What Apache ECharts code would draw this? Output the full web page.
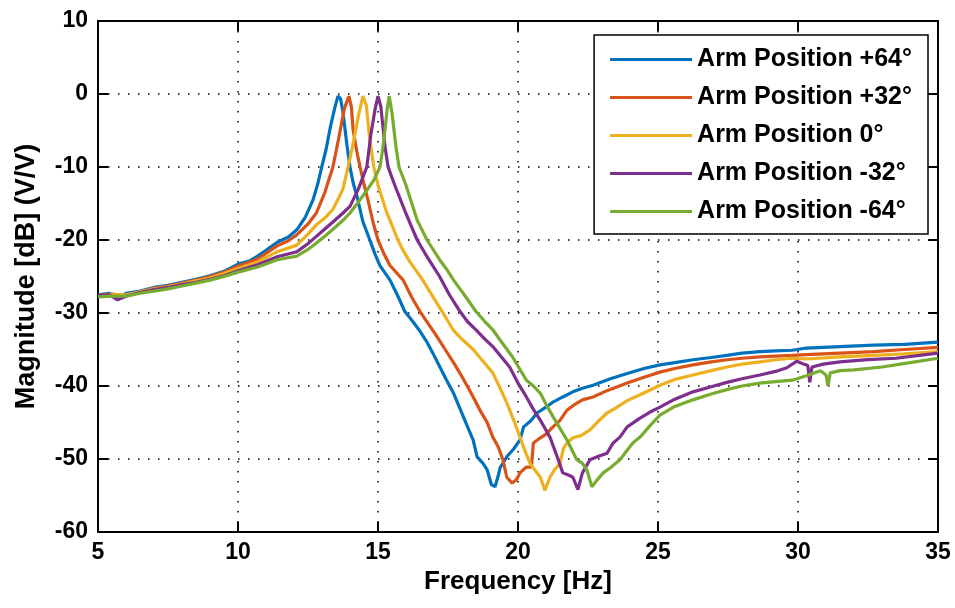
<!DOCTYPE html>
<html lang="en">
<head>
  <meta charset="UTF-8">
  <title>Arm position frequency response</title>
  <style>
    html, body { margin: 0; padding: 0; width: 100%; height: 100%; background: #fff; }
    #main { width: 955px; height: 608px; }
  </style>
</head>
<body>
  <div id="main"></div>
  <script src="https://cdn.jsdelivr.net/npm/echarts@6/dist/echarts.min.js"></script>
  <script type="text/javascript">
    // legend names and colours (MATLAB default order)
    const seriesNames = ['Arm Position +64°', 'Arm Position +32°', 'Arm Position 0°', 'Arm Position -32°', 'Arm Position -64°'];
    const seriesColors = ['#0072BD', '#D95319', '#EDB120', '#7E2F8E', '#77AC30'];
    const xTicks = [5, 10, 15, 20, 25, 30, 35];
    const yTicks = [-60, -50, -40, -30, -20, -10, 0, 10];

    // [frequency Hz, magnitude dB]
    const pos64 = [[5,-27.5],[5.4,-27.3],[5.7,-28.2],[6,-27.3],[6.5,-27.0],[7,-26.5],[7.5,-26.2],[8,-25.8],[8.5,-25.4],[9,-24.9],[9.5,-24.3],[10,-23.3],[10.4,-22.9],[10.7,-22.2],[11,-21.4],[11.4,-20.3],[11.8,-19.6],[12.1,-18.6],[12.4,-16.9],[12.68,-14.5],[12.85,-12.3],[12.99,-10],[13.15,-7.5],[13.3,-4.5],[13.45,-2],[13.57,-0.3],[13.66,-0.6],[13.75,-2.5],[13.89,-7],[14.0,-10],[14.12,-12.3],[14.25,-14],[14.46,-17.5],[14.71,-20],[14.9,-22],[15.07,-23.5],[15.43,-25.5],[15.7,-27.6],[15.96,-29.8],[16.25,-31.2],[16.5,-32.5],[16.75,-34],[16.96,-35.5],[17.21,-37.4],[17.45,-39.2],[17.7,-41],[17.95,-43.3],[18.2,-45.6],[18.4,-47.4],[18.54,-49.7],[18.75,-50.6],[18.9,-51.5],[19.05,-53.5],[19.18,-53.8],[19.3,-52.2],[19.36,-51.2],[19.6,-49.7],[19.85,-48.6],[20.07,-47.4],[20.2,-45.6],[20.45,-44.8],[20.68,-43.7],[21.0,-42.9],[21.25,-42.2],[21.6,-41.5],[21.96,-40.8],[22.3,-40.3],[22.68,-39.9],[23.3,-39.0],[23.9,-38.3],[24.5,-37.6],[25.07,-37.1],[25.6,-36.8],[26.25,-36.4],[26.9,-36.1],[27.46,-35.8],[28.0,-35.5],[28.64,-35.3],[29.2,-35.2],[29.8,-35.1],[30.3,-34.8],[31.5,-34.6],[32.7,-34.4],[33.8,-34.3],[35,-34.0]];
    const pos32 = [[5,-27.6],[5.5,-27.4],[6,-27.6],[6.5,-27.1],[7,-26.6],[7.5,-26.3],[8,-25.9],[8.5,-25.5],[9,-25.0],[9.5,-24.4],[10,-23.6],[10.7,-22.6],[11.4,-20.8],[11.8,-20.1],[12.1,-19.3],[12.5,-17.8],[12.8,-16.3],[13.1,-13.5],[13.39,-10],[13.6,-6],[13.8,-2],[13.96,-0.3],[14.05,-1.8],[14.11,-4.9],[14.25,-8],[14.36,-10],[14.5,-12.4],[14.64,-14.5],[14.82,-17.5],[15.0,-20],[15.2,-21.8],[15.43,-23.5],[15.9,-25.5],[16.2,-27.8],[16.5,-29.8],[16.8,-31.5],[17.1,-33.2],[17.4,-35],[17.7,-36.8],[17.95,-38.4],[18.2,-40.1],[18.4,-41.5],[18.64,-43.3],[18.9,-45],[19.1,-47],[19.3,-48.4],[19.46,-50.1],[19.6,-52.5],[19.79,-53.3],[19.95,-52.8],[20.07,-51.9],[20.3,-51.1],[20.48,-51.1],[20.55,-47.8],[20.8,-47.1],[21.0,-46.6],[21.25,-45.6],[21.5,-44.7],[21.75,-43.3],[22.0,-42.6],[22.3,-41.9],[22.68,-41.5],[23.2,-40.6],[23.9,-39.6],[24.5,-38.8],[25.07,-38.1],[25.6,-37.6],[26.25,-37.1],[26.9,-36.7],[27.46,-36.4],[28.0,-36.2],[28.64,-36.0],[29.2,-35.9],[29.8,-35.8],[30.3,-35.7],[31.5,-35.5],[32.7,-35.3],[33.8,-35.0],[35,-34.7]];
    const pos0 = [[5,-27.6],[5.5,-27.5],[6,-27.5],[6.5,-27.1],[7,-26.7],[7.5,-26.4],[8,-26.0],[8.5,-25.6],[9,-25.2],[9.5,-24.6],[10,-23.9],[10.7,-23.0],[11.4,-21.6],[12.1,-20.7],[12.5,-19.2],[12.8,-17.9],[13.1,-17.0],[13.39,-15.8],[13.6,-14.2],[13.75,-13],[13.93,-10],[14.1,-7],[14.3,-3],[14.46,-0.3],[14.58,-1.5],[14.7,-6],[14.85,-10],[15.0,-12.5],[15.15,-14.3],[15.29,-16],[15.5,-18],[15.71,-20],[15.92,-21.6],[16.14,-23],[16.6,-25.5],[16.95,-27.7],[17.29,-29.8],[17.68,-32.3],[18.0,-33.6],[18.4,-35],[18.75,-36.6],[19.1,-38.2],[19.35,-40.2],[19.6,-42.3],[19.85,-44.7],[20.07,-47],[20.25,-48.9],[20.43,-50.6],[20.6,-51.5],[20.8,-52.5],[20.96,-54.3],[21.14,-52.5],[21.3,-51.5],[21.5,-50.6],[21.62,-48.6],[21.75,-47.8],[21.96,-47.1],[22.25,-46.8],[22.57,-46],[22.85,-44.9],[23.18,-43.7],[23.5,-43],[23.9,-42],[24.36,-41.2],[25.07,-39.9],[25.6,-39.1],[26.25,-38.5],[26.9,-37.9],[27.46,-37.4],[28.0,-37.0],[28.64,-36.7],[29.2,-36.4],[29.8,-36.2],[30.3,-36.3],[31.5,-36.0],[32.7,-35.8],[33.8,-35.6],[35,-35.3]];
    const neg32 = [[5,-27.6],[5.4,-27.5],[5.7,-28.2],[6,-27.7],[6.5,-27.2],[7,-26.8],[7.5,-26.5],[8,-26.1],[8.5,-25.8],[9,-25.4],[9.5,-24.9],[10,-24.2],[10.7,-23.4],[11.4,-22.3],[12.1,-21.6],[12.5,-20.5],[12.8,-19.5],[13.1,-18.5],[13.4,-17.5],[13.75,-16.3],[14.0,-15.4],[14.3,-13],[14.6,-10],[14.75,-5.4],[14.9,-2],[15.0,-0.3],[15.1,-1.7],[15.25,-7.2],[15.36,-10],[15.6,-12.5],[15.96,-16],[16.2,-18.2],[16.4,-20],[16.8,-22.6],[17.2,-25],[17.55,-27.5],[17.93,-29.8],[18.2,-31.2],[18.5,-32.3],[18.8,-33.5],[19.1,-34.6],[19.4,-36],[19.7,-37.4],[20.0,-39.6],[20.3,-41.5],[20.55,-43.2],[20.8,-44.7],[21.14,-47],[21.4,-49.7],[21.6,-51.9],[21.8,-52.2],[21.96,-52.5],[22.14,-54.2],[22.3,-51.9],[22.57,-50.1],[22.9,-49.6],[23.18,-49.2],[23.4,-47.8],[23.64,-47],[23.9,-45.6],[24.36,-44.4],[24.7,-43.6],[25.07,-42.9],[25.6,-41.8],[26.25,-40.8],[26.9,-40.1],[27.46,-39.5],[28.0,-39.0],[28.64,-38.5],[29.2,-38.0],[29.6,-37.5],[29.96,-36.6],[30.2,-37.0],[30.35,-37.2],[30.42,-39.5],[30.5,-37.4],[30.9,-37.0],[31.5,-36.7],[32.5,-36.4],[33.5,-36.2],[35,-35.5]];
    const neg64 = [[5,-27.8],[5.5,-27.7],[6,-27.7],[6.5,-27.3],[7,-27.0],[7.5,-26.7],[8,-26.3],[8.5,-25.9],[9,-25.5],[9.5,-25.0],[10,-24.4],[10.7,-23.7],[11.4,-22.7],[12.1,-22.2],[12.5,-21.3],[12.8,-20.4],[13.1,-19.5],[13.4,-18.5],[13.75,-17.3],[14.0,-16.3],[14.3,-14.8],[14.6,-13.2],[14.85,-11.8],[15.07,-10],[15.17,-7.5],[15.25,-4.9],[15.33,-2],[15.4,-0.3],[15.5,-2.6],[15.64,-7.2],[15.75,-10],[16.0,-12.5],[16.2,-14.9],[16.4,-17.3],[16.75,-20],[17.2,-22.7],[17.45,-24],[17.7,-25.5],[18.1,-27.6],[18.5,-29.8],[18.8,-31.1],[19.1,-32.3],[19.36,-33.7],[19.8,-36],[20.05,-37.6],[20.3,-39.2],[20.55,-40.0],[20.8,-41],[21.0,-42.5],[21.25,-44.2],[21.5,-45.8],[21.75,-47.4],[22.1,-50.1],[22.3,-50.6],[22.46,-51.5],[22.64,-53.8],[22.8,-53.0],[23.04,-51.9],[23.3,-51.2],[23.64,-50.1],[23.9,-48.8],[24.1,-47.8],[24.36,-47],[24.7,-45.5],[25.07,-44],[25.6,-42.8],[26.25,-41.9],[26.9,-41.1],[27.46,-40.5],[28.0,-40.0],[28.64,-39.6],[29.2,-39.4],[29.8,-39.2],[30.3,-38.6],[30.8,-37.9],[31.0,-38.5],[31.07,-40],[31.15,-38.2],[31.5,-37.9],[32,-37.8],[33,-37.4],[34,-36.8],[35,-36.2]];
    const seriesData = [pos64, pos32, pos0, neg32, neg64];

    const font = 'Liberation Sans, Arial, sans-serif';
    const black = '#000';

    const boxAxis = {
      axisLine: { show: true, onZero: false, lineStyle: { color: black, width: 2 } },
      axisTick: { show: true, inside: true, length: 10, lineStyle: { color: black, width: 2 } }
    };
    const dots = { show: true, lineStyle: { color: black, width: 1.5, type: [1.5, 8.5] } };

    var myChart = echarts.init(document.getElementById('main'));
    var option = {
      animation: false,
      backgroundColor: '#fff',
      grid: { left: 98, right: 17, top: 21, bottom: 76 },
      legend: {
        orient: 'vertical',
        top: 35,
        right: 27,
        data: seriesNames,
        icon: 'rect',
        itemWidth: 82,
        itemHeight: 3,
        itemGap: 11,
        padding: [11, 16, 9, 16],
        backgroundColor: '#fff',
        borderColor: black,
        borderWidth: 1.5,
        textStyle: { color: black, fontFamily: font, fontWeight: 'bold', fontSize: 25, lineHeight: 27 }
      },
      xAxis: [{
        type: 'value', position: 'bottom', min: 5, max: 35, interval: 5,
        name: 'Frequency [Hz]', nameLocation: 'middle', nameGap: 37,
        nameTextStyle: { color: black, fontFamily: font, fontWeight: 'bold', fontSize: 26 },
        axisLine: boxAxis.axisLine, axisTick: boxAxis.axisTick,
        axisLabel: { color: black, fontFamily: font, fontWeight: 'bold', fontSize: 23, margin: 9,
          formatter: v => xTicks.includes(v) ? String(v) : '' },
        splitLine: dots
      }, {
        type: 'value', position: 'top', min: 5, max: 35, interval: 5,
        axisLine: boxAxis.axisLine, axisTick: boxAxis.axisTick,
        axisLabel: { show: false }, splitLine: { show: false }
      }],
      yAxis: [{
        type: 'value', position: 'left', min: -60, max: 10, interval: 10,
        name: 'Magnitude [dB] (V/V)', nameLocation: 'middle', nameGap: 58,
        nameTextStyle: { color: black, fontFamily: font, fontWeight: 'bold', fontSize: 27 },
        axisLine: boxAxis.axisLine, axisTick: boxAxis.axisTick,
        axisLabel: { color: black, fontFamily: font, fontWeight: 'bold', fontSize: 23, margin: 10,
          formatter: v => yTicks.includes(v) ? String(v) : '' },
        splitLine: dots
      }, {
        type: 'value', position: 'right', min: -60, max: 10, interval: 10,
        axisLine: boxAxis.axisLine, axisTick: boxAxis.axisTick,
        axisLabel: { show: false }, splitLine: { show: false }
      }],
      series: seriesData.map((d, i) => ({
        name: seriesNames[i],
        type: 'line',
        xAxisIndex: 0,
        yAxisIndex: 0,
        data: d,
        symbol: 'none',
        showSymbol: false,
        color: seriesColors[i],
        lineStyle: { color: seriesColors[i], width: 3.2 },
        z: 2 + i
      }))
    };
    myChart.setOption(option);
  </script>
</body>
</html>
